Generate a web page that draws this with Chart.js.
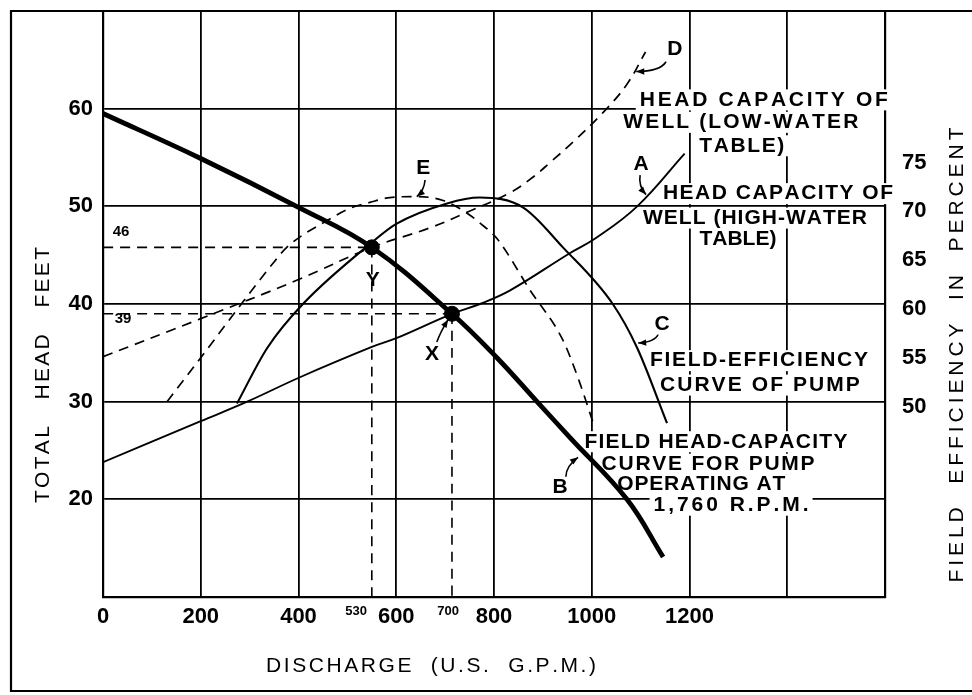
<!DOCTYPE html>
<html>
<head>
<meta charset="utf-8">
<script src="https://cdn.jsdelivr.net/npm/chart.js@4.4.1/dist/chart.umd.min.js"></script>
<style>
  html, body { margin: 0; padding: 0; background: #fff; }
  #wrap { width: 972px; height: 695px; }
</style>
</head>
<body>
<div id="wrap"><canvas id="chart" width="972" height="695"></canvas></div>
<script>
// B - field head-capacity curve of pump (total head, feet)
var pumpQ = [0, 200, 400, 550, 714, 806, 888, 956, 1072, 1146];
var pumpHead = [59.5, 54.9, 49.9, 45.8, 39, 34.5, 30, 26.3, 20, 14.1];

// A - head capacity of well, high-water table
var wellHighQ = [0, 200, 295, 403, 550, 600, 714, 771, 833, 955, 1007, 1093, 1190];
var wellHighHead = [23.8, 28, 30, 32.5, 35.6, 36.5, 39, 40, 41.4, 45.2, 46.7, 50, 55.4];

// D - head capacity of well, low-water table
var wellLowQ = [0, 200, 400, 550, 669, 745, 833, 880, 915, 962, 1023, 1072, 1110];
var wellLowHead = [34.6, 38.5, 42.5, 45.8, 47.8, 49.4, 51.4, 53.0, 54.5, 56.6, 59.6, 62.5, 65.8];

// C - field efficiency curve of pump (percent)
var effQ = [274, 336, 409, 550, 600, 704, 771, 859, 941, 1043, 1093, 1154];
var effPct = [49.8, 55.5, 60, 66.3, 68.2, 70.3, 70.9, 69.9, 65.8, 60, 55.5, 47.8];

// E - efficiency, low-water table (percent)
var effLowQ = [131, 200, 283, 350, 376, 464, 505, 546, 587, 640, 696, 745, 771, 806, 874, 941, 975, 1003];
var effLowPct = [50, 54.5, 60, 64.3, 65.8, 68.7, 69.8, 70.4, 70.9, 71, 70.6, 69.3, 68.3, 66.7, 61.4, 56.3, 52, 47.8];

// operating points Y and X
var opQ = [550, 714];
var opHead = [45.8, 39];
var opName = ['Y', 'X'];
var opHeadText = ['46', '39'];
var opQText = ['530', '700'];

// tick labels shown
var xTicks = [0, 200, 400, 600, 800, 1000, 1200];
var headTicks = [20, 30, 40, 50, 60];
var effTicks = [50, 55, 60, 65, 70, 75];

var FONT = '"Liberation Sans", Arial, sans-serif';
var DASH = [10, 7];

function pts(xs, ys) {
  return xs.map(function (x, i) { return { x: x, y: ys[i] }; });
}

function curve(data, width, dash, axis, mono) {
  return {
    data: data, yAxisID: axis || 'y', showLine: true, fill: false,
    borderColor: '#000', borderWidth: width, borderDash: dash || [],
    pointRadius: 0, tension: 0.4, cubicInterpolationMode: mono ? 'monotone' : 'default'
  };
}

var datasets = [
  curve(pts(wellHighQ, wellHighHead), 1.9),
  curve(pts(wellLowQ, wellLowHead), 1.7, DASH),
  curve(pts(effQ, effPct), 2.1, null, 'y2', true),
  curve(pts(effLowQ, effLowPct), 1.7, DASH, 'y2', true),
  curve(pts(pumpQ, pumpHead), 4.8)
];

// dashed lines from the operating points to the axes
opQ.forEach(function (q, i) {
  datasets.push(curve([{ x: 0, y: opHead[i] }, { x: q, y: opHead[i] }], 1.6, DASH));
  datasets.push(curve([{ x: q, y: opHead[i] }, { x: q, y: 10 }], 1.6, DASH));
});
datasets.push({
  data: pts(opQ, opHead), yAxisID: 'y', showLine: false,
  pointRadius: 7.5, pointBackgroundColor: '#000', pointBorderColor: '#000'
});

// text blocks (data coordinates)
var notes = [
  { text: 'HEAD CAPACITY OF', q: 1352, h: 60.9, w: 248 },
  { text: 'WELL (LOW-WATER', q: 1305, h: 58.6, w: 235 },
  { text: 'TABLE)', q: 1307, h: 56.2, w: 85 },
  { text: 'HEAD CAPACITY OF', q: 1381, h: 51.3, w: 230 },
  { text: 'WELL (HIGH-WATER', q: 1334, h: 48.8, w: 224 },
  { text: 'TABLE)', q: 1299, h: 46.6, w: 77 },
  { text: 'FIELD-EFFICIENCY', q: 1342, h: 34.2, w: 218 },
  { text: 'CURVE OF PUMP', q: 1344, h: 31.7, w: 200 },
  { text: 'FIELD HEAD-CAPACITY', q: 1254, h: 25.9, w: 263 },
  { text: 'CURVE FOR PUMP', q: 1238, h: 23.6, w: 213 },
  { text: 'OPERATING AT', q: 1224, h: 21.5, w: 168 },
  { text: '1,760 R.P.M.', q: 1285, h: 19.4, w: 155 }
];

// curve letters with their leader arrows [from, control, to]
var letters = [
  { t: 'D', q: 1170, h: 66.1, arrow: [[1152, 64.8], [1140, 63.8], [1091, 63.8]] },
  { t: 'A', q: 1101, h: 54.3, arrow: [[1099, 53.2], [1095, 52.1], [1111, 51.2]] },
  { t: 'E', q: 655, h: 53.9, arrow: [[659, 52.7], [657, 51.6], [642, 51.0]] },
  { t: 'C', q: 1144, h: 37.9, arrow: [[1136, 36.9], [1129, 36.1], [1095, 36.0]] },
  { t: 'B', q: 935, h: 21.2, arrow: [[947, 22.3], [947, 23.4], [972, 24.3]] },
  { t: 'Y', q: 552, h: 42.4, arrow: null },
  { t: 'X', q: 673, h: 34.9, arrow: [[683, 36.1], [690, 37.1], [706, 38.4]] }
];

// spread the letters of a string over a given width
function spaced(c, str, cx, cy, width, box) {
  var widths = [], sum = 0, i;
  for (i = 0; i < str.length; i++) { widths.push(c.measureText(str[i]).width); sum += widths[i]; }
  var sp = width ? (width - sum) / (str.length - 1) : 0;
  var total = sum + sp * (str.length - 1);
  var x = cx - total / 2;
  if (box) {
    c.fillStyle = '#fff';
    c.fillRect(x - 4, cy - box / 2, total + 8, box);
  }
  c.fillStyle = '#000';
  c.textAlign = 'left';
  c.textBaseline = 'middle';
  for (i = 0; i < str.length; i++) { c.fillText(str[i], x, cy); x += widths[i] + sp; }
}

function arrow(c, p0, p1, p2) {
  c.beginPath();
  c.moveTo(p0[0], p0[1]);
  c.quadraticCurveTo(p1[0], p1[1], p2[0], p2[1]);
  c.stroke();
  var a = Math.atan2(p2[1] - p1[1], p2[0] - p1[0]);
  c.beginPath();
  c.moveTo(p2[0], p2[1]);
  c.lineTo(p2[0] - 8 * Math.cos(a) + 3.2 * Math.sin(a), p2[1] - 8 * Math.sin(a) - 3.2 * Math.cos(a));
  c.lineTo(p2[0] - 8 * Math.cos(a) - 3.2 * Math.sin(a), p2[1] - 8 * Math.sin(a) + 3.2 * Math.cos(a));
  c.closePath();
  c.fill();
}

var notesPlugin = {
  id: 'notes',
  // text blocks sit on the grid but under the curves
  beforeDatasetsDraw: function (chart) {
    var c = chart.ctx, xs = chart.scales.x, ys = chart.scales.y;
    c.save();
    c.font = 'bold 21px ' + FONT;
    notes.forEach(function (n) {
      spaced(c, n.text, xs.getPixelForValue(n.q), ys.getPixelForValue(n.h), n.w, 21);
    });
    c.restore();
  },
  afterDraw: function (chart) {
    var c = chart.ctx, xs = chart.scales.x, ys = chart.scales.y;
    function P(q, h) { return [xs.getPixelForValue(q), ys.getPixelForValue(h)]; }
    c.save();
    c.strokeStyle = '#000';
    c.fillStyle = '#000';

    // outer frame
    c.lineWidth = 2.2;
    c.beginPath();
    c.moveTo(972, 11); c.lineTo(11, 11); c.lineTo(11, 691); c.lineTo(972, 691);
    c.stroke();

    // letters and leaders
    c.lineWidth = 1.6;
    letters.forEach(function (l) {
      if (l.arrow) {
        arrow(c, P(l.arrow[0][0], l.arrow[0][1]), P(l.arrow[1][0], l.arrow[1][1]), P(l.arrow[2][0], l.arrow[2][1]));
      }
      var p = P(l.q, l.h);
      c.font = 'bold 21px ' + FONT;
      spaced(c, l.t, p[0], p[1], 0, l.t === 'X' || l.t === 'Y' ? 0 : 20);
    });

    // small value labels at the operating points
    c.font = 'bold 15px ' + FONT;
    var hp = [P(37, 47.4), P(41, 38.5)];
    opHeadText.forEach(function (t, i) { spaced(c, t, hp[i][0], hp[i][1], 0, 0); });
    c.font = 'bold 13px ' + FONT;
    var qp = [P(518, 8.5), P(706, 8.5)];
    opQText.forEach(function (t, i) { spaced(c, t, qp[i][0], qp[i][1], 0, 0); });

    // axis titles
    c.font = '21px ' + FONT;
    spaced(c, 'DISCHARGE  (U.S.  G.P.M.)', 431, 666, 330, 0);
    c.save();
    c.translate(43, 375);
    c.rotate(-Math.PI / 2);
    spaced(c, 'TOTAL   HEAD   FEET', 0, 0, 256, 0);
    c.restore();
    c.save();
    c.translate(957, 355);
    c.rotate(-Math.PI / 2);
    spaced(c, 'FIELD  EFFICIENCY  IN  PERCENT', 0, 0, 455, 0);
    c.restore();

    c.restore();
  }
};

var ctx = document.getElementById('chart').getContext('2d');
new Chart(ctx, {
  type: 'scatter',
  data: { datasets: datasets },
  plugins: [notesPlugin],
  options: {
    responsive: false,
    animation: false,
    layout: { padding: { top: 11, left: 0, right: 0, bottom: 0 } },
    plugins: { legend: { display: false }, tooltip: { enabled: false } },
    scales: {
      x: {
        type: 'linear', min: 0, max: 1600,
        grid: { color: '#000', lineWidth: 1.8, drawTicks: false },
        border: { color: '#000', width: 2.2 },
        ticks: {
          stepSize: 200, autoSkip: false, maxRotation: 0, padding: 7, color: '#000',
          font: { family: FONT, size: 22, weight: 'bold' },
          callback: function (v) { return xTicks.indexOf(v) >= 0 ? String(v) : ''; }
        },
        afterFit: function (s) { s.height = 98; s.paddingLeft = 0; s.paddingRight = 0; }
      },
      y: {
        position: 'left', min: 10, max: 70,
        grid: { color: '#000', lineWidth: 1.8, drawTicks: false },
        border: { color: '#000', width: 2.2 },
        ticks: {
          stepSize: 10, padding: 10, color: '#000',
          font: { family: FONT, size: 22, weight: 'bold' },
          callback: function (v) { return headTicks.indexOf(v) >= 0 ? String(v) : ''; }
        },
        afterFit: function (s) { s.width = 103; s.paddingTop = 0; s.paddingBottom = 0; }
      },
      y2: {
        position: 'right', min: 30, max: 90,
        grid: { display: false, drawTicks: false },
        border: { display: true, color: '#000', width: 2.2 },
        ticks: {
          stepSize: 5, padding: 17, labelOffset: 5, color: '#000',
          font: { family: FONT, size: 22, weight: 'bold' },
          callback: function (v) { return effTicks.indexOf(v) >= 0 ? String(v) : ''; }
        },
        afterFit: function (s) { s.width = 87; s.paddingTop = 0; s.paddingBottom = 0; }
      }
    }
  }
});
</script>
</body>
</html>
